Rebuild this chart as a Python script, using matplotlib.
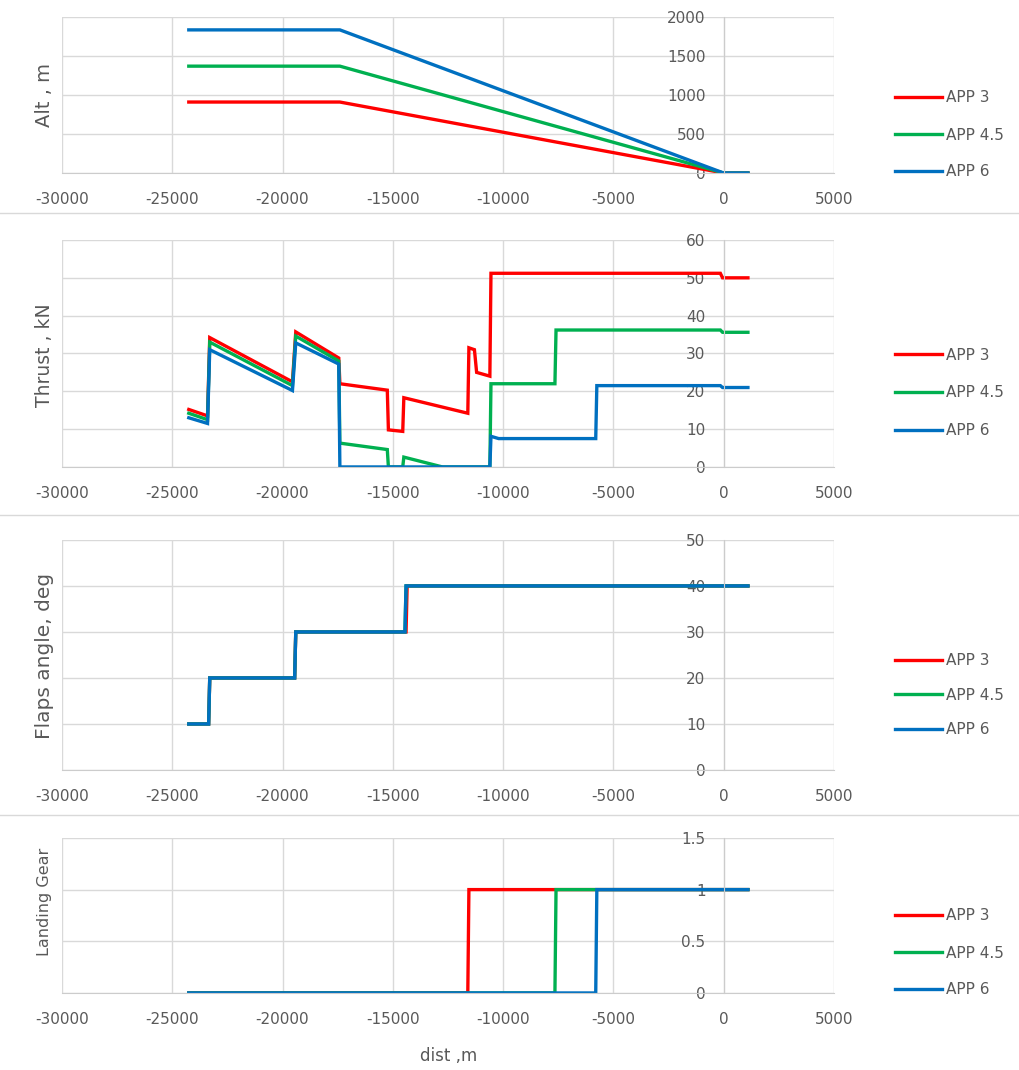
import matplotlib.pyplot as plt
import numpy as np
from matplotlib.lines import Line2D
from matplotlib.ticker import FuncFormatter

plt.rcParams['font.family'] = 'DejaVu Sans'
plt.rcParams['axes.unicode_minus'] = False

series = ['APP 3', 'APP 4.5', 'APP 6']
colors = ['#ff0000', '#00b050', '#0070c0']
text_color = '#595959'
grid_color = '#d9d9d9'

x_ticks = [-30000, -25000, -20000, -15000, -10000, -5000, 0, 5000]

# altitude along the approach path
alt_x = [-24250, -17400, 0, 1100]
alt_app3 = [910, 910, 0, 0]
alt_app45 = [1370, 1370, 0, 0]
alt_app6 = [1835, 1835, 0, 0]

# thrust
thrust_x_app3 = [-24250, -23400, -23300, -19550, -19400, -17450, -17400, -15250,
                 -15200, -14550, -14500, -11600, -11550, -11300, -11200, -10600,
                 -10550, -150, -50, 1100]
thrust_app3 = [15.2, 13.5, 34.2, 22.5, 35.7, 28.8, 22.0, 20.3,
               9.8, 9.4, 18.3, 14.2, 31.5, 31.0, 25.0, 24.0,
               51.2, 51.2, 50.0, 50.0]
thrust_x_app45 = [-24250, -23400, -23300, -19550, -19400, -17450, -17400, -15250,
                  -15200, -14550, -14500, -12750, -10600, -10550, -7650, -7600,
                  -150, -50, 1100]
thrust_app45 = [14.2, 12.5, 33.0, 21.5, 34.6, 28.0, 6.3, 4.6,
                0, 0, 2.6, 0, 0, 22.0, 22.0, 36.2,
                36.2, 35.6, 35.6]
thrust_x_app6 = [-24250, -23400, -23300, -19550, -19400, -17450, -17400, -10600,
                 -10550, -10200, -5800, -5750, -150, -50, 1100]
thrust_app6 = [13.0, 11.5, 31.0, 20.2, 32.8, 27.2, 0, 0,
               8.1, 7.5, 7.5, 21.5, 21.5, 21.0, 21.0]

# flaps setting
flaps_x_app3 = [-24250, -23350, -23300, -19450, -19400, -14400, -14350, 1100]
flaps_x_app45 = [-24250, -23350, -23300, -19450, -19400, -14450, -14400, 1100]
flaps_x_app6 = [-24250, -23350, -23300, -19450, -19400, -14450, -14400, 1100]
flaps_app3 = [10, 10, 20, 20, 30, 30, 40, 40]
flaps_app45 = [10, 10, 20, 20, 30, 30, 40, 40]
flaps_app6 = [10, 10, 20, 20, 30, 30, 40, 40]

# landing gear (0 = up, 1 = down)
gear_x_app3 = [-24250, -11600, -11550, 1100]
gear_x_app45 = [-24250, -7650, -7600, 1100]
gear_x_app6 = [-24250, -5800, -5750, 1100]
gear_app3 = [0, 0, 1, 1]
gear_app45 = [0, 0, 1, 1]
gear_app6 = [0, 0, 1, 1]

panels = [
    dict(xs=[alt_x, alt_x, alt_x], ys=[alt_app3, alt_app45, alt_app6],
         yticks=[0, 500, 1000, 1500, 2000], ylabel='Alt , m', lsize=14,
         rect=[0.0608, 0.8383, 0.7576, 0.1458], leg_y=135, leg_sp=1.44, lab_y=95),
    dict(xs=[thrust_x_app3, thrust_x_app45, thrust_x_app6],
         ys=[thrust_app3, thrust_app45, thrust_app6],
         yticks=[0, 10, 20, 30, 40, 50, 60], ylabel='Thrust , kN', lsize=13.5,
         rect=[0.0608, 0.5636, 0.7576, 0.2121], leg_y=393, leg_sp=1.5, lab_y=355),
    dict(xs=[flaps_x_app3, flaps_x_app45, flaps_x_app6],
         ys=[flaps_app3, flaps_app45, flaps_app6],
         yticks=[0, 10, 20, 30, 40, 50], ylabel='Flaps angle, deg', lsize=14.5,
         rect=[0.0608, 0.2804, 0.7576, 0.2150], leg_y=695, leg_sp=1.28, lab_y=656),
    dict(xs=[gear_x_app3, gear_x_app45, gear_x_app6],
         ys=[gear_app3, gear_app45, gear_app6],
         yticks=[0, 0.5, 1, 1.5], ylabel='Landing Gear', lsize=11.5,
         rect=[0.0608, 0.0720, 0.7576, 0.1449], leg_y=953, leg_sp=1.44, lab_y=902),
]

W, H = 1019, 1070
fig = plt.figure(figsize=(W / 100, H / 100), dpi=100)

for p in panels:
    ax = fig.add_axes(p['rect'])
    for x, y, name, c in zip(p['xs'], p['ys'], series, colors):
        ax.plot(x, y, color=c, lw=2.4, label=name, solid_joinstyle='miter')

    ax.set_xlim(-30000, 5000)
    ax.set_ylim(p['yticks'][0], p['yticks'][-1])
    ax.set_xticks(x_ticks)
    ax.set_yticks(p['yticks'])
    ax.yaxis.set_major_formatter(FuncFormatter(lambda v, pos: '{:g}'.format(v)))

    ax.set_axisbelow(True)
    ax.grid(True, color=grid_color, lw=1.0)
    for s in ['top', 'right']:
        ax.spines[s].set_visible(False)
    ax.spines['left'].set_position(('data', 0))
    ax.spines['left'].set_color('#cccccc')
    ax.spines['bottom'].set_color('#cccccc')
    ax.tick_params(axis='both', length=0, labelsize=11, labelcolor=text_color)
    ax.tick_params(axis='x', pad=14)
    ax.tick_params(axis='y', pad=13)

    fig.text(45 / W, 1 - p['lab_y'] / H, p['ylabel'], rotation=90,
             ha='center', va='center', fontsize=p['lsize'], color=text_color)

    leg = ax.legend(loc='center left', bbox_to_anchor=(895 / W, 1 - p['leg_y'] / H),
                    bbox_transform=fig.transFigure, frameon=False, fontsize=11,
                    handlelength=3.1, handletextpad=0.25, labelspacing=p['leg_sp'],
                    borderpad=0, borderaxespad=0)
    for t in leg.get_texts():
        t.set_color(text_color)

# chart borders between the stacked panels
for yy in [213, 515, 815]:
    fig.add_artist(Line2D([0, 1], [1 - yy / H, 1 - yy / H], color=grid_color,
                          lw=1.0, transform=fig.transFigure))

fig.text(449 / W, 1 - 1056 / H, 'dist ,m', ha='center', va='center',
         fontsize=12, color=text_color)

fig.savefig('out.png', dpi=100)
